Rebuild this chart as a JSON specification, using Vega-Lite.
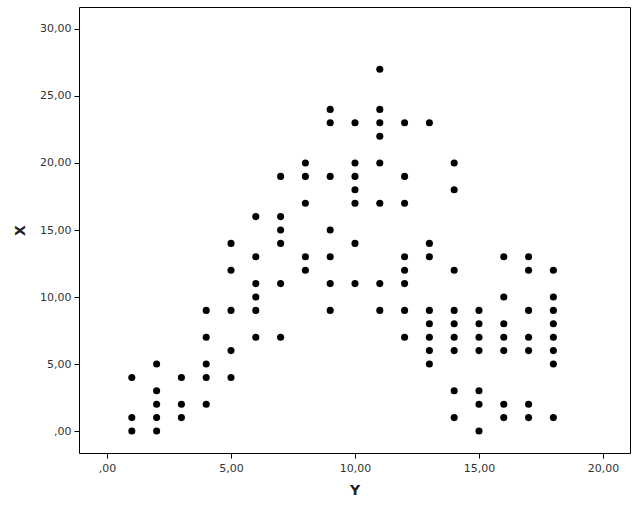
{
  "$schema": "https://vega.github.io/schema/vega-lite/v6.json",
  "width": 551,
  "height": 446,
  "padding": {"left": 79, "top": 7, "right": 7, "bottom": 57},
  "autosize": {"type": "none"},
  "background": "white",
  "config": {
    "view": {"stroke": "black", "strokeWidth": 1},
    "axis": {
      "grid": false,
      "domain": false,
      "tickColor": "black",
      "tickSize": 5,
      "labelFont": "DejaVu Sans",
      "labelFontSize": 11,
      "labelColor": "#333333",
      "titleFont": "DejaVu Sans",
      "titleFontSize": 14,
      "titleFontWeight": "bold",
      "titleColor": "#222222"
    }
  },
  "data": {
    "values": [
      {"Y": 1, "X": 4}, {"Y": 1, "X": 1}, {"Y": 1, "X": 0},
      {"Y": 2, "X": 5}, {"Y": 2, "X": 3}, {"Y": 2, "X": 2}, {"Y": 2, "X": 1}, {"Y": 2, "X": 0},
      {"Y": 3, "X": 4}, {"Y": 3, "X": 2}, {"Y": 3, "X": 1},
      {"Y": 4, "X": 9}, {"Y": 4, "X": 7}, {"Y": 4, "X": 5}, {"Y": 4, "X": 4}, {"Y": 4, "X": 2},
      {"Y": 5, "X": 14}, {"Y": 5, "X": 12}, {"Y": 5, "X": 9}, {"Y": 5, "X": 6}, {"Y": 5, "X": 4},
      {"Y": 6, "X": 16}, {"Y": 6, "X": 13}, {"Y": 6, "X": 11}, {"Y": 6, "X": 10}, {"Y": 6, "X": 9}, {"Y": 6, "X": 7},
      {"Y": 7, "X": 19}, {"Y": 7, "X": 16}, {"Y": 7, "X": 15}, {"Y": 7, "X": 14}, {"Y": 7, "X": 11}, {"Y": 7, "X": 7},
      {"Y": 8, "X": 20}, {"Y": 8, "X": 19}, {"Y": 8, "X": 17}, {"Y": 8, "X": 13}, {"Y": 8, "X": 12},
      {"Y": 9, "X": 24}, {"Y": 9, "X": 23}, {"Y": 9, "X": 19}, {"Y": 9, "X": 15}, {"Y": 9, "X": 13}, {"Y": 9, "X": 11}, {"Y": 9, "X": 9},
      {"Y": 10, "X": 23}, {"Y": 10, "X": 20}, {"Y": 10, "X": 19}, {"Y": 10, "X": 18}, {"Y": 10, "X": 17}, {"Y": 10, "X": 14}, {"Y": 10, "X": 11},
      {"Y": 11, "X": 27}, {"Y": 11, "X": 24}, {"Y": 11, "X": 23}, {"Y": 11, "X": 22}, {"Y": 11, "X": 20}, {"Y": 11, "X": 17}, {"Y": 11, "X": 11}, {"Y": 11, "X": 9},
      {"Y": 12, "X": 23}, {"Y": 12, "X": 19}, {"Y": 12, "X": 17}, {"Y": 12, "X": 13}, {"Y": 12, "X": 12}, {"Y": 12, "X": 11}, {"Y": 12, "X": 9}, {"Y": 12, "X": 7},
      {"Y": 13, "X": 23}, {"Y": 13, "X": 14}, {"Y": 13, "X": 13}, {"Y": 13, "X": 9}, {"Y": 13, "X": 8}, {"Y": 13, "X": 7}, {"Y": 13, "X": 6}, {"Y": 13, "X": 5},
      {"Y": 14, "X": 20}, {"Y": 14, "X": 18}, {"Y": 14, "X": 12}, {"Y": 14, "X": 9}, {"Y": 14, "X": 8}, {"Y": 14, "X": 7}, {"Y": 14, "X": 6}, {"Y": 14, "X": 3}, {"Y": 14, "X": 1},
      {"Y": 15, "X": 9}, {"Y": 15, "X": 8}, {"Y": 15, "X": 7}, {"Y": 15, "X": 6}, {"Y": 15, "X": 3}, {"Y": 15, "X": 2}, {"Y": 15, "X": 0},
      {"Y": 16, "X": 13}, {"Y": 16, "X": 10}, {"Y": 16, "X": 8}, {"Y": 16, "X": 7}, {"Y": 16, "X": 6}, {"Y": 16, "X": 2}, {"Y": 16, "X": 1},
      {"Y": 17, "X": 13}, {"Y": 17, "X": 12}, {"Y": 17, "X": 9}, {"Y": 17, "X": 7}, {"Y": 17, "X": 6}, {"Y": 17, "X": 2}, {"Y": 17, "X": 1},
      {"Y": 18, "X": 12}, {"Y": 18, "X": 10}, {"Y": 18, "X": 9}, {"Y": 18, "X": 8}, {"Y": 18, "X": 7}, {"Y": 18, "X": 6}, {"Y": 18, "X": 5}, {"Y": 18, "X": 1}
    ]
  },
  "mark": {"type": "point", "filled": true, "color": "black", "opacity": 1, "size": 50},
  "encoding": {
    "x": {
      "field": "Y", "type": "quantitative",
      "scale": {"domain": [-1.13, 21.09], "nice": false, "zero": false},
      "axis": {
        "values": [0, 5, 10, 15, 20],
        "labelExpr": "datum.value == 0 ? ',00' : replace(format(datum.value, '.2f'), '.', ',')",
        "title": "Y",
        "titlePadding": 10,
        "labelPadding": 4
      }
    },
    "y": {
      "field": "X", "type": "quantitative",
      "scale": {"domain": [-1.64, 31.64], "nice": false, "zero": false},
      "axis": {
        "values": [0, 5, 10, 15, 20, 25, 30],
        "labelExpr": "datum.value == 0 ? ',00' : replace(format(datum.value, '.2f'), '.', ',')",
        "title": "X",
        "titlePadding": 12,
        "labelPadding": 3
      }
    }
  }
}
